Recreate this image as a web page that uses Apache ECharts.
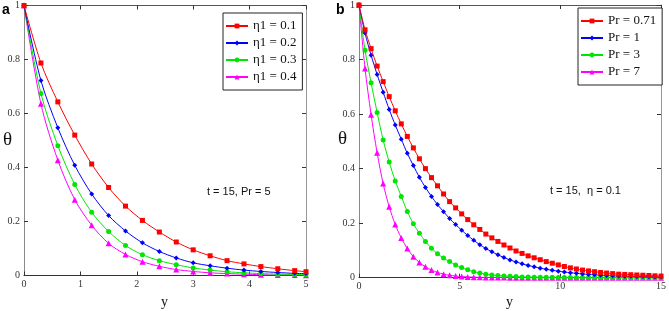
<!DOCTYPE html>
<html>
<head>
<meta charset="utf-8">
<script src="https://cdn.jsdelivr.net/npm/echarts@6/dist/echarts.min.js"></script>
<style>
  html, body { margin: 0; padding: 0; background: #fff; }
  #chart { width: 669px; height: 311px; }
</style>
</head>
<body>
<div id="chart"></div>
<script>
// panel a: eta1 varies, t = 15, Pr = 5
const xsA = [0, 0.3, 0.6, 0.9, 1.2, 1.5, 1.8, 2.1, 2.4, 2.7, 3.0, 3.3, 3.6, 3.9, 4.2, 4.5, 4.8, 5.0];
const namesA = ['η1 = 0.1', 'η1 = 0.2', 'η1 = 0.3', 'η1 = 0.4'];
const eta01 = [1, 0.787, 0.643, 0.52, 0.413, 0.326, 0.257, 0.204, 0.161, 0.124, 0.095, 0.073, 0.055, 0.043, 0.033, 0.025, 0.018, 0.014];
const eta02 = [1, 0.722, 0.547, 0.408, 0.302, 0.222, 0.165, 0.121, 0.089, 0.065, 0.047, 0.036, 0.027, 0.02, 0.015, 0.011, 0.008, 0.007];
const eta03 = [1, 0.674, 0.481, 0.337, 0.234, 0.163, 0.111, 0.077, 0.055, 0.04, 0.028, 0.02, 0.014, 0.01, 0.007, 0.005, 0.004, 0.003];
const eta04 = [1, 0.636, 0.427, 0.281, 0.186, 0.119, 0.078, 0.051, 0.034, 0.022, 0.015, 0.01, 0.007, 0.005, 0.003, 0.002, 0.002, 0.001];

// panel b: Pr varies, t = 15, eta = 0.1
const xsB = [0, 0.3, 0.6, 0.9, 1.2, 1.5, 1.8, 2.1, 2.4, 2.7, 3.0, 3.3, 3.6, 3.9, 4.2, 4.5, 4.8,
  5.1, 5.4, 5.7, 6.0, 6.3, 6.6, 6.9, 7.2, 7.5, 7.8, 8.1, 8.4, 8.7, 9.0, 9.3, 9.6, 9.9,
  10.2, 10.5, 10.8, 11.1, 11.4, 11.7, 12.0, 12.3, 12.6, 12.9, 13.2, 13.5, 13.8, 14.1, 14.4, 14.7, 15.0];
const namesB = ['Pr = 0.71', 'Pr = 1', 'Pr = 3', 'Pr = 7'];
const pr071 = [1, 0.909, 0.84, 0.776, 0.719, 0.664, 0.612, 0.564, 0.518, 0.476, 0.436, 0.4, 0.367, 0.337, 0.307, 0.279, 0.256,
  0.234, 0.213, 0.194, 0.177, 0.16, 0.146, 0.133, 0.12, 0.109, 0.098, 0.089, 0.08, 0.073, 0.066, 0.059, 0.053, 0.047,
  0.041, 0.036, 0.032, 0.028, 0.025, 0.022, 0.019, 0.017, 0.015, 0.013, 0.012, 0.011, 0.01, 0.009, 0.008, 0.007, 0.006];
const pr1 = [1, 0.897, 0.816, 0.745, 0.68, 0.617, 0.56, 0.508, 0.456, 0.411, 0.368, 0.331, 0.298, 0.268, 0.242, 0.217, 0.195,
  0.174, 0.155, 0.137, 0.121, 0.107, 0.095, 0.084, 0.074, 0.065, 0.058, 0.051, 0.045, 0.04, 0.035, 0.031, 0.027, 0.024,
  0.021, 0.018, 0.016, 0.014, 0.012, 0.011, 0.009, 0.008, 0.007, 0.006, 0.0055, 0.005, 0.0045, 0.004, 0.0035, 0.003, 0.003];
const pr3 = [1, 0.834, 0.715, 0.606, 0.505, 0.424, 0.355, 0.298, 0.243, 0.198, 0.163, 0.133, 0.108, 0.088, 0.072, 0.059, 0.047,
  0.037, 0.029, 0.022, 0.017, 0.013, 0.01, 0.008, 0.006, 0.005, 0.004, 0.003, 0.0025, 0.002, 0.0017, 0.0014, 0.0012, 0.001,
  0.0009, 0.0008, 0.0007, 0.0006, 0.0005, 0.0005, 0.0004, 0.0004, 0.0003, 0.0003, 0.0003, 0.0002, 0.0002, 0.0002, 0.0002, 0.0001, 0.0001];
const pr7 = [1, 0.767, 0.598, 0.458, 0.345, 0.26, 0.195, 0.146, 0.107, 0.077, 0.056, 0.04, 0.028, 0.019, 0.013, 0.009, 0.006,
  0.004, 0.003, 0.002, 0.0015, 0.001, 0.0007, 0.0005, 0.0003, 0.0002, 0.0001, 0.0001, 0.0001, 0.0001, 0.0001, 0, 0, 0,
  0, 0, 0, 0, 0, 0, 0, 0, 0, 0, 0, 0, 0, 0, 0, 0, 0];

const colors = ['#ff0000', '#0000ff', '#00e600', '#ff00ff'];
const symbols = ['rect', 'diamond', 'circle', 'triangle'];
const symbolSizes = [5, 5, 5, 6];

const serif = '"Liberation Serif", "DejaVu Serif", serif';
const sans = '"Liberation Sans", Arial, sans-serif';

function pairs(xs, ys) {
  return xs.map((x, i) => [x, ys[i]]);
}

function makeSeries(names, xs, list, axisIdx) {
  return list.map((ys, i) => ({
    name: names[i],
    type: 'line',
    smooth: 0.3,
    xAxisIndex: axisIdx,
    yAxisIndex: axisIdx,
    data: pairs(xs, ys),
    symbol: symbols[i],
    symbolSize: symbolSizes[i],
    showSymbol: true,
    color: colors[i],
    lineStyle: {width: 1, color: colors[i]},
    itemStyle: {color: colors[i]},
    clip: false,
    z: 10 - i
  }));
}

// 坐标轴：下/左带标签，上/右只画框和刻度
function baseX(grid, max, interval, pos) {
  const bottom = pos === 'bottom';
  return {
    type: 'value', gridIndex: grid, position: pos, min: 0, max: max, interval: interval,
    axisLine: {show: true, onZero: false, lineStyle: {color: bottom ? '#333' : '#555', width: 1}},
    axisTick: {show: true, inside: true, length: 4, lineStyle: {color: '#333'}},
    axisLabel: {show: bottom, margin: 4, color: '#333', fontFamily: serif, fontSize: 10},
    splitLine: {show: false}
  };
}

function baseY(grid, pos) {
  const left = pos === 'left';
  return {
    type: 'value', gridIndex: grid, position: pos, min: 0, max: 1, interval: 0.2,
    axisLine: {show: true, onZero: false, lineStyle: {color: left ? '#888' : '#999', width: 1}},
    axisTick: {show: true, inside: true, length: 4, lineStyle: {color: '#333'}},
    axisLabel: {show: left, margin: 4, color: '#333', fontFamily: serif, fontSize: 10},
    splitLine: {show: false}
  };
}

function legendAt(idx, left, top, names) {
  return {
    seriesIndex: idx,
    data: names,
    orient: 'vertical',
    left: left, top: top,
    backgroundColor: '#fff',
    borderColor: '#222', borderWidth: 1,
    padding: [6, 6, 6, 2],
    itemGap: 3, itemWidth: 22, itemHeight: 6,
    textStyle: {fontFamily: serif, fontSize: 13, lineHeight: 14, color: '#111'}
  };
}

const myChart = echarts.init(document.getElementById('chart'), null, {renderer: 'canvas'});

myChart.setOption({
  animation: false,
  grid: [
    {left: 24, top: 5.5, width: 282, height: 270},
    {left: 359, top: 2.7, width: 303, height: 275}
  ],
  xAxis: [
    baseX(0, 5, 1, 'bottom'), baseX(0, 5, 1, 'top'),
    baseX(1, 15, 5, 'bottom'), baseX(1, 15, 5, 'top')
  ],
  yAxis: [
    baseY(0, 'left'), baseY(0, 'right'),
    baseY(1, 'left'), baseY(1, 'right')
  ],
  legend: [
    legendAt(0, 223, 13, namesA),
    legendAt(1, 578, 8, namesB)
  ],
  graphic: [
    {type: 'text', left: 2, top: 3, style: {text: 'a', font: 'bold 14px ' + sans, fill: '#000'}},
    {type: 'text', left: 336, top: 3, style: {text: 'b', font: 'bold 14px ' + sans, fill: '#000'}},
    {type: 'text', left: 3, top: 131, style: {text: 'θ', font: '19px ' + serif, fill: '#111'}},
    {type: 'text', left: 338, top: 130, style: {text: 'θ', font: '19px ' + serif, fill: '#111'}},
    {type: 'text', left: 161, top: 295, style: {text: 'y', font: '14px ' + serif, fill: '#111'}},
    {type: 'text', left: 506, top: 295, style: {text: 'y', font: '14px ' + serif, fill: '#111'}},
    {type: 'text', left: 207, top: 186, style: {text: 't = 15, Pr = 5', font: '11px ' + sans, fill: '#111'}},
    {type: 'text', left: 550, top: 185, style: {text: 't = 15,  η = 0.1', font: '11px ' + sans, fill: '#111'}}
  ],
  series: [
    ...makeSeries(namesA, xsA, [eta01, eta02, eta03, eta04], 0),
    ...makeSeries(namesB, xsB, [pr071, pr1, pr3, pr7], 2)
  ]
});
</script>
</body>
</html>
